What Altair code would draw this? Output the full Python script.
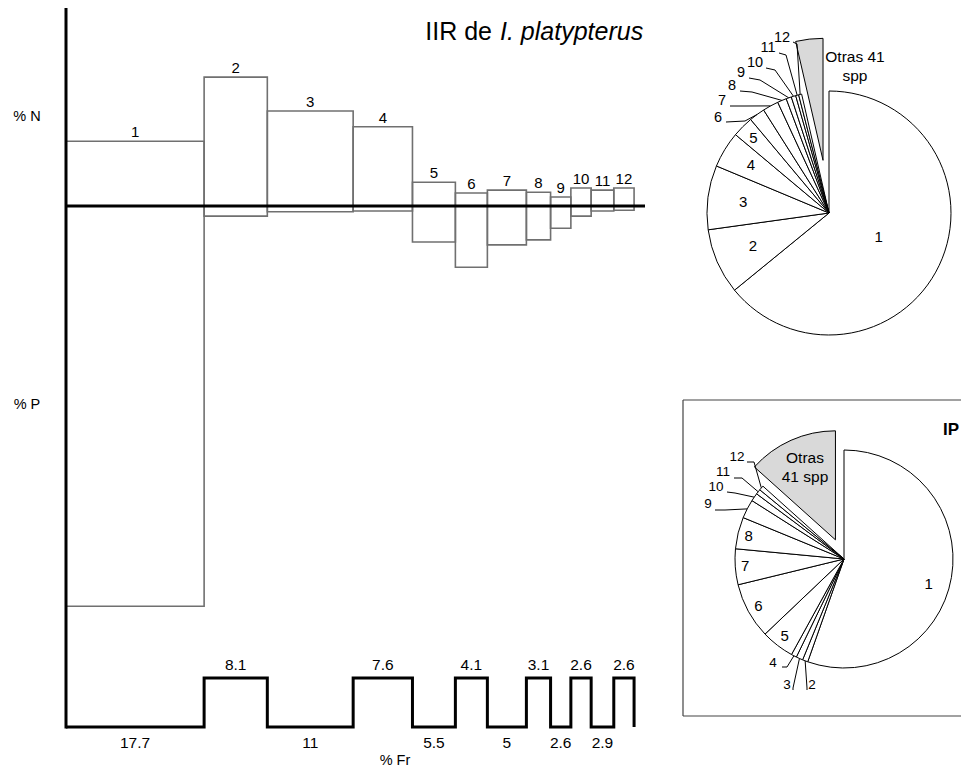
import math
import numpy as np
import pandas as pd
import altair as alt

# ---------------- data ----------------
presas = ["1", "2", "3", "4", "5", "6", "7", "8", "9", "10", "11", "12"]
pct_fr = [17.7, 8.1, 11, 7.6, 5.5, 4.1, 5, 3.1, 2.6, 2.6, 2.9, 2.6]
pct_n = [9.0, 17.9, 13.2, 11.0, 3.3, 1.8, 2.2, 1.9, 1.25, 2.5, 2.2, 2.5]
pct_p = [55.6, 1.4, 0.8, 0.7, 5.0, 8.5, 5.4, 4.7, 3.1, 1.4, 0.7, 0.6]

otras = "Otras 41 spp"
iir_pct = [64.1, 8.7, 8.5, 4.8, 2.8, 2.1, 2.1, 1.2, 0.7, 0.6, 0.4, 0.4, 3.6]
ip_pct = [55.4, 0.8, 1.0, 0.8, 4.9, 8.3, 5.3, 4.7, 2.8, 1.2, 0.75, 0.7, 13.35]

# ---------------- layout ----------------
FONT = "Liberation Sans"
W, H = 953, 761
M = 8  # page margin: chart coords = page coords - 8
X_MAX = 74.2
GRAY = "#707070"


def sc(dom, rng):
    return alt.Scale(domain=dom, range=rng, nice=False, zero=False)


xs_main = sc([0, X_MAX], [58, 637])
ys_main = sc([-100, 27.5], [918, 0])
ys_step = sc([0, 1], [719, 670])

# ---------------- main IIR diagram ----------------
cum = np.cumsum(pct_fr)
x0 = np.concatenate([[0.0], cum[:-1]])
bars = pd.DataFrame({
    "presa": presas, "x0": x0, "x1": cum, "xm": (x0 + cum) / 2,
    "base": 0.0, "N": pct_n, "negP": [-p for p in pct_p],
})
b = alt.Chart(bars)
rect_n = b.mark_rect(fill="transparent", stroke=GRAY, strokeWidth=1.6).encode(
    x=alt.X("x0:Q", scale=xs_main, axis=None), x2="x1:Q",
    y=alt.Y("base:Q", scale=ys_main, axis=None), y2="N:Q")
rect_p = b.mark_rect(fill="transparent", stroke=GRAY, strokeWidth=1.6).encode(
    x=alt.X("x0:Q", scale=xs_main, axis=None), x2="x1:Q",
    y=alt.Y("base:Q", scale=ys_main, axis=None), y2="negP:Q")
lbl_n = b.mark_text(font=FONT, fontSize=15, baseline="bottom", dy=-1).encode(
    x=alt.X("xm:Q", scale=xs_main, axis=None),
    y=alt.Y("N:Q", scale=ys_main, axis=None), text="presa:N")

zero_df = pd.DataFrame({"x": [0.0], "x2": [X_MAX], "y": [0.0]})
zero_rule = alt.Chart(zero_df).mark_rule(color="black", strokeWidth=3).encode(
    x=alt.X("x:Q", scale=xs_main, axis=None), x2="x2:Q",
    y=alt.Y("y:Q", scale=ys_main, axis=None))
axis_rule = alt.Chart(zero_df).mark_rule(color="black", strokeWidth=3).encode(
    x=alt.X("x:Q", scale=xs_main, axis=None), y=alt.value(0), y2=alt.value(720.5))
main = alt.layer(rect_p, rect_n, zero_rule, axis_rule, lbl_n)

# ---------------- frequency step line ----------------
nivel = [i % 2 for i in range(len(pct_fr))]
step_df = pd.DataFrame({"x": list(x0) + [cum[-1]], "nivel": nivel + [0]})
step_line = alt.Chart(step_df).mark_line(
    interpolate="step-after", color="black", strokeWidth=3).encode(
    x=alt.X("x:Q", scale=xs_main, axis=None),
    y=alt.Y("nivel:Q", scale=ys_step, axis=None))
fr_df = pd.DataFrame({"xm": (x0 + cum) / 2, "nivel": nivel,
                      "lab": [f"{v:g}" for v in pct_fr]})
fr_low = alt.Chart(fr_df).transform_filter("datum.nivel == 0").mark_text(
    font=FONT, fontSize=15.5, baseline="top", dy=9).encode(
    x=alt.X("xm:Q", scale=xs_main, axis=None),
    y=alt.Y("nivel:Q", scale=ys_step, axis=None), text="lab:N")
fr_high = alt.Chart(fr_df).transform_filter("datum.nivel == 1").mark_text(
    font=FONT, fontSize=15.5, baseline="bottom", dy=-5).encode(
    x=alt.X("xm:Q", scale=xs_main, axis=None),
    y=alt.Y("nivel:Q", scale=ys_step, axis=None), text="lab:N")
step = alt.layer(step_line, fr_low, fr_high)


# ---------------- pies ----------------
def build_pie(pcts, cxp, cyp, R, explode, out_layout, in_layout, otras_text,
              lab_size, otras_size):
    names = presas + [otras]
    v = np.array(pcts, float)
    end = np.cumsum(v)
    start = end - v
    mid = (start + end) / 200.0 * 2 * np.pi
    ex = np.zeros(len(v))
    ey = np.zeros(len(v))
    ex[-1] = explode * np.sin(mid[-1])
    ey[-1] = explode * np.cos(mid[-1])
    fills = ["white"] * 12 + ["#d9d9d9"]
    arcs = pd.DataFrame({"name": names, "start": start, "end": end,
                         "ux": ex, "uy": ey, "fill": fills})
    cx, cy = cxp - M, cyp - M
    xs = sc([-1, 1], [cx - R, cx + R])
    ys = sc([-1, 1], [cy + R, cy - R])

    def X(f):
        return alt.X(f, type="quantitative", scale=xs, axis=None)

    def Y(f):
        return alt.Y(f, type="quantitative", scale=ys, axis=None)

    arc = alt.Chart(arcs).mark_arc(outerRadius=R, stroke="black", strokeWidth=1).encode(
        theta=alt.Theta("start:Q", scale=alt.Scale(domain=[0, 100], range=[0, 2 * math.pi])),
        theta2="end:Q", x=X("ux"), y=Y("uy"),
        color=alt.Color("fill:N", scale=None))

    lines, out_t, in_t = [], [], []
    for k, (tx, ty, s_x, s_y, e_x, e_y) in out_layout.items():
        i = presas.index(k)
        pts = [((s_x - cxp) / R, (cyp - s_y) / R), ((e_x - cxp) / R, (cyp - e_y) / R),
               (float(np.sin(mid[i])), float(np.cos(mid[i])))]
        for o, (a, c) in enumerate(pts):
            lines.append({"id": k, "o": o, "ux": a, "uy": c})
        out_t.append({"t": k, "ux": (tx - cxp) / R, "uy": (cyp - ty) / R})
    for k, (r, shift) in in_layout.items():
        i = presas.index(k)
        ang = mid[i] + math.radians(shift)
        in_t.append({"t": k, "ux": r * math.sin(ang), "uy": r * math.cos(ang)})
    otr = [{"t": t, "ux": (px - cxp) / R, "uy": (cyp - py) / R} for t, px, py in otras_text]

    lead = alt.Chart(pd.DataFrame(lines)).mark_line(color="black", strokeWidth=1).encode(
        x=X("ux"), y=Y("uy"), detail="id:N", order="o:Q")
    lab_out = alt.Chart(pd.DataFrame(out_t)).mark_text(
        font=FONT, fontSize=lab_size, align="center", baseline="middle").encode(
        x=X("ux"), y=Y("uy"), text="t:N")
    lab_in = alt.Chart(pd.DataFrame(in_t)).mark_text(
        font=FONT, fontSize=15, align="center", baseline="middle").encode(
        x=X("ux"), y=Y("uy"), text="t:N")
    olab = alt.Chart(pd.DataFrame(otr)).mark_text(
        font=FONT, fontSize=otras_size, align="center", baseline="middle").encode(
        x=X("ux"), y=Y("uy"), text="t:N")
    return alt.layer(arc, lead, lab_out, lab_in, olab)


# label layout in page pixels: text centre, leader start, leader elbow
top_out = {
    "6": (718, 118, 726, 122, 745, 121),
    "7": (722, 101, 730, 106, 745, 106),
    "8": (732, 86, 740, 91, 752, 92),
    "9": (741, 73, 749, 78, 760, 80),
    "10": (755, 63, 766, 68, 775, 70),
    "11": (768, 48, 779, 53, 786, 55),
    "12": (782, 38, 793, 42, 797, 44),
}
top_in = {"1": (0.45, 0), "2": (0.68, 0), "3": (0.71, 0), "4": (0.75, 0), "5": (0.875, 0)}
top_otras = [("Otras 41", 855, 57), ("spp", 855, 76)]

bot_out = {
    "12": (737, 457, 747, 462, 754, 462),
    "11": (723, 472, 734, 478, 742, 478),
    "10": (716, 487, 727, 492, 735, 493),
    "9": (708, 504, 715, 510, 725, 510),
    "4": (773, 663, 782, 667, 787, 667),
    "3": (787, 685, 793, 690, 793, 688),
    "2": (812, 685, 807, 690, 807, 688),
}
bot_in = {"1": (0.81, 7), "5": (0.89, 0), "6": (0.895, 0), "7": (0.91, 0), "8": (0.90, 0)}
bot_otras = [("Otras", 805, 458), ("41 spp", 805, 477)]

pie_top = build_pie(iir_pct, 829, 213, 122, 53 / 122, top_out, top_in, top_otras, 14.5, 15.5)
pie_bot = build_pie(ip_pct, 844, 559, 109, 21 / 109, bot_out, bot_in, bot_otras, 13.5, 15.5)

# ---------------- annotations ----------------
def txt(rows, **kw):
    df = pd.DataFrame(rows, columns=["t", "x", "y"])
    return alt.Chart(df).mark_text(font=FONT, **kw).encode(
        x=alt.X("x:Q", scale=None), y=alt.Y("y:Q", scale=None), text="t:N")


ax_labels = txt([("% N", 19, 109), ("% P", 19, 397), ("% Fr", 387, 753)],
                fontSize=14.5, align="center", baseline="middle")
title_a = txt([("IIR de", 484, 32)], fontSize=25, align="right", baseline="alphabetic")
title_b = txt([("I. platypterus", 492, 32)], fontSize=25, align="left",
              baseline="alphabetic", fontStyle="italic")
ip_lab = txt([("IP", 943, 422)], fontSize=17, fontWeight="bold", align="center",
             baseline="middle")

box_df = pd.DataFrame({"x": [675, 675, 675], "x2": [953, 675, 953],
                       "y": [392, 392, 708], "y2": [392, 708, 708]})
box = alt.Chart(box_df).mark_rule(color="#444444", strokeWidth=1.2).encode(
    x=alt.X("x:Q", scale=None), x2="x2:Q", y=alt.Y("y:Q", scale=None), y2="y2:Q")

annot = alt.layer(box, ax_labels, title_a, title_b, ip_lab)

chart = alt.layer(main, step, pie_top, pie_bot, annot).resolve_scale(
    x="independent", y="independent", theta="independent", color="independent"
).properties(
    width=W, height=H, padding=0, autosize=alt.AutoSizeParams(type="none")
).configure_view(stroke=None)

chart.save("out.html", embed_options={"renderer": "svg", "actions": False})
